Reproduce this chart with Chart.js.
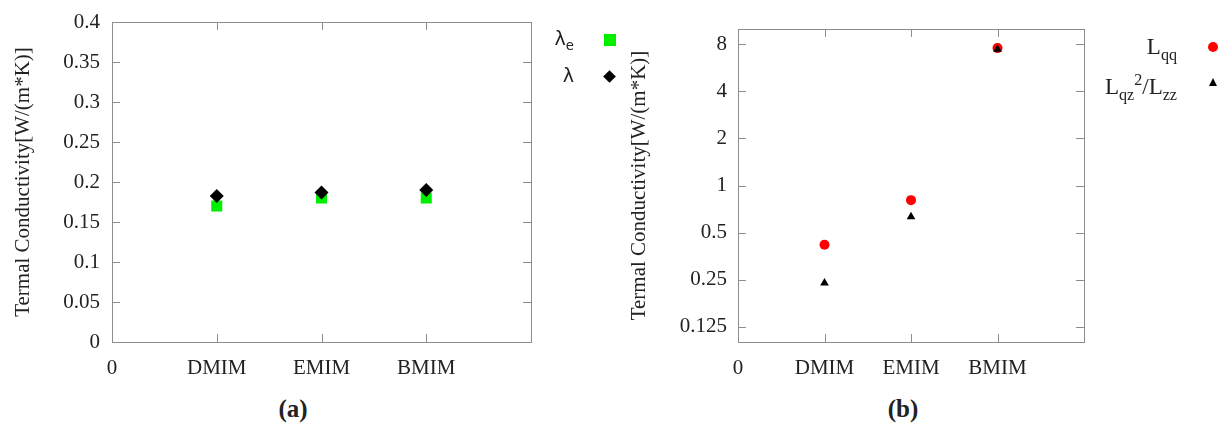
<!DOCTYPE html>
<html><head><meta charset="utf-8">
<script src="https://cdn.jsdelivr.net/npm/chart.js@4.4.0/dist/chart.umd.min.js"></script>
<style>
html,body{margin:0;padding:0;background:#fff;}
body{width:1218px;height:425px;position:relative;overflow:hidden;font-family:"Liberation Serif",serif;color:#222;}
#wa{position:absolute;left:0;top:0;width:600px;height:380px;}
#wb{position:absolute;left:600px;top:0;width:618px;height:380px;}
.leg{position:absolute;white-space:nowrap;text-align:right;line-height:1;}
.mk{position:absolute;}
.cap{position:absolute;font-weight:bold;font-size:25px;transform:translate(-50%,-50%);}
sub,sup{font-size:70%;line-height:0;}
</style>
</head><body>
<div id="wa"><canvas id="ca"></canvas></div>
<div id="wb"><canvas id="cb"></canvas></div>

<div class="leg" style="left:500px;width:74px;top:29px;font-family:'DejaVu Sans',sans-serif;font-size:19px;">λ<sub>e</sub></div>
<div class="mk" style="left:604px;top:34px;width:12px;height:12px;background:#00ee00;"></div>
<div class="leg" style="left:500px;width:74px;top:66px;font-family:'DejaVu Sans',sans-serif;font-size:19px;">λ</div>
<div class="mk" style="left:605px;top:72px;width:9px;height:9px;background:#000;transform:rotate(45deg);"></div>

<div class="leg" style="left:1070px;width:107px;top:35px;font-size:23px;">L<sub>qq</sub></div>
<div class="mk" style="left:1208px;top:42px;width:10px;height:10px;border-radius:50%;background:#ff0000;"></div>
<div class="leg" style="left:1070px;width:107px;top:75px;font-size:23px;">L<sub>qz</sub><sup>2</sup>/L<sub>zz</sub></div>
<div class="mk" style="left:1209px;top:78px;width:0;height:0;border-left:4.5px solid transparent;border-right:4.5px solid transparent;border-bottom:8px solid #000;"></div>

<div class="cap" style="left:293px;top:409px;">(a)</div>
<div class="cap" style="left:903px;top:409px;">(b)</div>

<script>
const categories = ['DMIM', 'EMIM', 'BMIM'];
const xTickLabels = ['0', 'DMIM', 'EMIM', 'BMIM', ''];
const lambdaE = [0.170, 0.180, 0.180];
const lambdaTot = [0.1825, 0.187, 0.190];
const Lqq = [0.418, 0.806, 7.55];
const LqzSqOverLzz = [0.238, 0.632, 7.43];
const yTicksA = [0, 0.05, 0.1, 0.15, 0.2, 0.25, 0.3, 0.35, 0.4];
const yTicksB = [0.125, 0.25, 0.5, 1, 2, 4, 8];
const yTitle = 'Termal Conductivity[W/(m*K)]';

const toPoints = vals => vals.map((v, i) => ({x: i + 1, y: v}));
const FONT = '"Liberation Serif", serif';

const framePlugin = {
  id: 'frame',
  beforeDatasetsDraw(chart) {
    const {ctx, chartArea: a, scales} = chart;
    ctx.save();
    ctx.strokeStyle = '#8c8c8c';
    ctx.lineWidth = 1;
    const L = 8;
    ctx.beginPath();
    scales.y.ticks.forEach(t => {
      const y = Math.round(scales.y.getPixelForValue(t.value)) + 0.5;
      if (y <= a.top + 2 || y >= a.bottom - 2) return;
      ctx.moveTo(a.left, y); ctx.lineTo(a.left + L, y);
      ctx.moveTo(a.right, y); ctx.lineTo(a.right - L, y);
    });
    scales.x.ticks.forEach(t => {
      const x = Math.round(scales.x.getPixelForValue(t.value)) + 0.5;
      if (x <= a.left + 2 || x >= a.right - 2) return;
      ctx.moveTo(x, a.bottom); ctx.lineTo(x, a.bottom - L);
      ctx.moveTo(x, a.top); ctx.lineTo(x, a.top + L);
    });
    ctx.stroke();
    ctx.strokeRect(Math.round(a.left) + 0.5, Math.round(a.top) + 0.5,
                   Math.round(a.right - a.left), Math.round(a.bottom - a.top));
    ctx.restore();
  }
};

function xScale(height) {
  return {
    type: 'linear', min: 0, max: 4,
    afterBuildTicks: s => { s.ticks = xTickLabels.map((_, i) => ({value: i})); },
    afterFit: s => { s.height = height; },
    grid: {display: false}, border: {display: false},
    ticks: {color: '#222', font: {family: FONT, size: 21}, padding: 6,
            maxRotation: 0, autoSkip: false,
            callback: v => xTickLabels[v]}
  };
}

function makeChart(id, datasets, yScale, padding) {
  return new Chart(document.getElementById(id), {
    type: 'scatter',
    data: {datasets},
    options: {
      responsive: true, maintainAspectRatio: false, animation: false,
      layout: {padding},
      plugins: {legend: {display: false}, tooltip: {enabled: false}},
      scales: {x: xScale(38), y: yScale}
    },
    plugins: [framePlugin]
  });
}

makeChart('ca', [
  {label: 'λ', data: toPoints(lambdaTot), pointStyle: 'rectRot', pointRadius: 7,
   backgroundColor: '#000', borderColor: '#000', pointBorderWidth: 0},
  {label: 'λe', data: toPoints(lambdaE), pointStyle: 'rect', pointRadius: 7.8,
   backgroundColor: '#00ee00', borderColor: '#00ee00', pointBorderWidth: 0}
], {
  type: 'linear', min: 0, max: 0.4,
  afterBuildTicks: s => { s.ticks = yTicksA.map(v => ({value: v})); },
  afterFit: s => { s.width = 112; },
  grid: {display: false}, border: {display: false},
  ticks: {color: '#222', font: {family: FONT, size: 21}, padding: 4, callback: v => String(v)},
  title: {display: true, text: yTitle, color: '#222', font: {family: FONT, size: 21}, padding: {top: 11, bottom: 0}}
}, {left: 0, right: 69, top: 22, bottom: 0});

makeChart('cb', [
  {label: 'Lqz2/Lzz', data: toPoints(LqzSqOverLzz), pointStyle: 'triangle', pointRadius: 5,
   backgroundColor: '#000', borderColor: '#000', pointBorderWidth: 0},
  {label: 'Lqq', data: toPoints(Lqq), pointStyle: 'circle', pointRadius: 5,
   backgroundColor: '#ff0000', borderColor: '#ff0000', pointBorderWidth: 0}
], {
  type: 'logarithmic', min: 0.1, max: 10,
  afterBuildTicks: s => { s.ticks = yTicksB.map(v => ({value: v})); },
  afterFit: s => { s.width = 138; },
  grid: {display: false}, border: {display: false},
  ticks: {color: '#222', font: {family: FONT, size: 21}, padding: 3, callback: v => String(v)},
  title: {display: true, text: yTitle, color: '#222', font: {family: FONT, size: 21}, padding: {top: 27, bottom: 0}}
}, {left: 0, right: 134, top: 29, bottom: 0});
</script>
</body></html>
